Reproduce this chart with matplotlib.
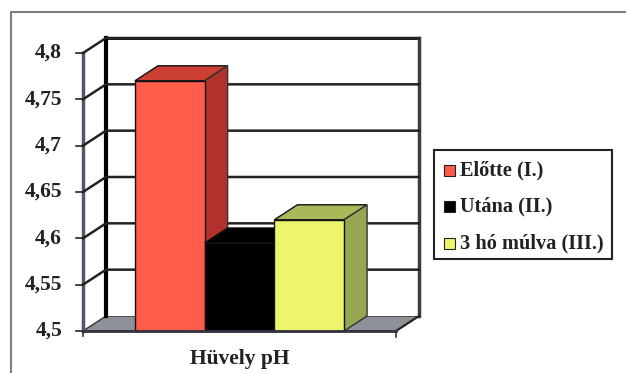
import matplotlib
matplotlib.use("Agg")
import matplotlib.pyplot as plt
from matplotlib.lines import Line2D
from matplotlib.patches import Polygon, Rectangle

series_names = ["Előtte (I.)", "Utána (II.)", "3 hó múlva (III.)"]
values = [4.77, 4.595, 4.62]
front_colors = ["#ff5c4a", "#000000", "#edf56c"]
top_colors = ["#cc3f33", "#000000", "#a9b95a"]
side_colors = ["#b0322b", "#000000", "#97a650"]
yticks = [4.5, 4.55, 4.6, 4.65, 4.7, 4.75, 4.8]
ytick_labels = ["4,5", "4,55", "4,6", "4,65", "4,7", "4,75", "4,8"]
category = "Hüvely pH"

W, H = 626, 373
plt.rcParams["font.family"] = ["Liberation Serif", "DejaVu Serif"]
plt.rcParams["font.weight"] = "bold"

fig = plt.figure(figsize=(W / 100, H / 100), dpi=100)
# the axes is the front plane of the 3d box
ax = fig.add_axes([83 / W, 1 - 331 / H, 313 / W, 278 / H])
ax.set_xlim(-1.245, 3.245)
ax.set_ylim(4.5, 4.8)
ax.axis("off")

# oblique depth of the box in data units
dx = 23 / 313 * 4.49
dy = 15 / 278 * 0.3
bar_w = 1.0
x0, x1 = ax.get_xlim()
y0, y1 = ax.get_ylim()

# floor
ax.add_patch(Polygon([(x0, y0), (x0 + dx, y0 + dy), (x1 + dx, y0 + dy), (x1, y0)],
                     fc="#8f9199", ec="#333333", lw=1, clip_on=False, zorder=1))
# back wall
ax.add_patch(Polygon([(x0 + dx, y0 + dy), (x0 + dx, y1 + dy), (x1 + dx, y1 + dy), (x1 + dx, y0 + dy)],
                     fc="white", ec="none", clip_on=False, zorder=1.5))
# left wall
ax.plot([x0, x0], [y0, y1], color="#55556a", lw=2.5, clip_on=False, zorder=2)
ax.plot([x0 + dx, x0 + dx], [y0 + dy, y1 + dy], color="#000000", lw=3, clip_on=False, zorder=2)
ax.plot([x0 + dx, x1 + dx], [y1 + dy, y1 + dy], color="#000000", lw=2, clip_on=False, zorder=2)
ax.plot([x1 + dx, x1 + dx], [y0 + dy, y1 + dy], color="#3c3c46", lw=2.5, clip_on=False, zorder=2)
ax.plot([x0, x1], [y0, y0], color="#333340", lw=2, clip_on=False, zorder=6)

# gridlines run across the left wall and the back wall
for t in yticks[1:]:
    ax.plot([x0, x0 + dx, x1 + dx], [t, t + dy, t + dy], color="#222222", lw=1.8,
            clip_on=False, zorder=2)
ax.plot([x1, x1 + dx], [y0, y0 + dy], color="#222222", lw=1.5, clip_on=False, zorder=2)

# tick marks and value labels
for t, lab in zip(yticks, ytick_labels):
    ax.plot([x0 - 0.1, x0], [t, t], color="#222222", lw=1.2, clip_on=False, zorder=3)
    ax.text(x0 - 0.3, t, lab, ha="right", va="center", fontsize=15.5, color="#222222")
ax.plot([x0, x0], [y0, y0 - 0.005], color="#333333", lw=1.2, clip_on=False)
ax.plot([x1, x1], [y0, y0 - 0.006], color="#333333", lw=1.2, clip_on=False)

# bars, left to right so the later ones cover the earlier side faces
for i, v in enumerate(values):
    left, right = i - bar_w / 2, i + bar_w / 2
    z = 3 + i * 0.1
    ax.add_patch(Rectangle((left, y0), bar_w, v - y0, fc=front_colors[i], ec="#111111", lw=1,
                           clip_on=False, zorder=z + 0.02))
    ax.add_patch(Polygon([(left, v), (left + dx, v + dy), (right + dx, v + dy), (right, v)],
                         fc=top_colors[i], ec="#111111", lw=1, clip_on=False, zorder=z))
    ax.add_patch(Polygon([(right, y0), (right + dx, y0 + dy), (right + dx, v + dy), (right, v)],
                         fc=side_colors[i], ec="#333333", lw=1, clip_on=False, zorder=z))

ax.text(0.5, -0.1, category, transform=ax.transAxes, ha="center", va="center",
        fontsize=15.5, color="#222222")

# outer chart frame, only the left and top edges are on the canvas
fig.add_artist(Line2D([11 / W, 11 / W, 1], [0, 1 - 12 / H, 1 - 12 / H], color="#7f7f7f", lw=1.5))

# legend box is laid out by hand to keep the small square markers
fig.add_artist(Rectangle((434 / W, 1 - 259 / H), 178 / W, 109 / H, transform=fig.transFigure,
                         fc="white", ec="#222222", lw=1.5, zorder=7))
for i, name in enumerate(series_names):
    y = 1 - (170 + i * 36.5) / H
    fig.add_artist(Rectangle((444 / W, y - 5.5 / H), 11 / W, 11 / H, transform=fig.transFigure,
                             fc=front_colors[i], ec="#222222", lw=0.8, zorder=8))
    fig.text(460 / W, y, name, ha="left", va="center", fontsize=14.7, color="#222222", zorder=8)

fig.savefig("out.png", dpi=100)
